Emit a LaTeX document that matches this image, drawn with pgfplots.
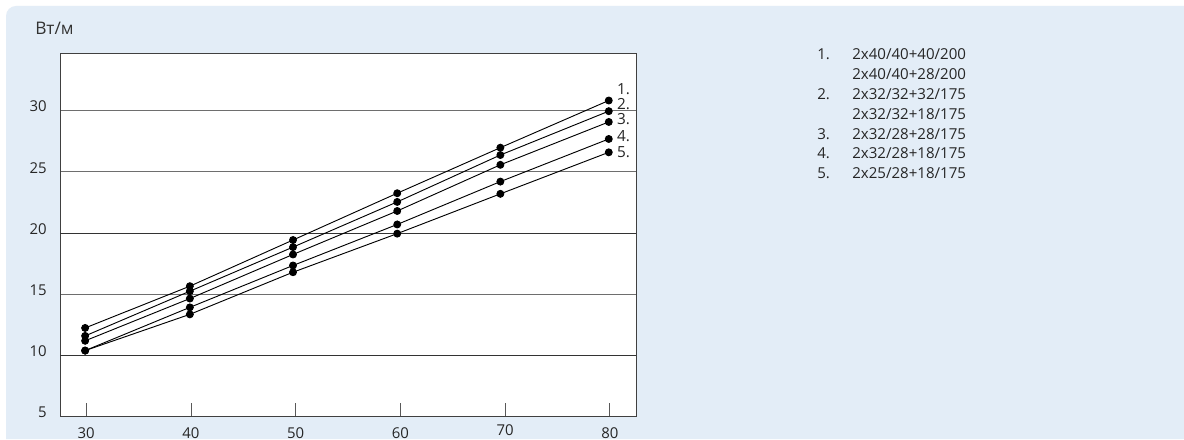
\documentclass[border=0pt]{standalone}
\usepackage{fontspec}
\setmainfont{Open Sans}
\usepackage{pgfplots}
\pgfplotsset{compat=1.18}
\definecolor{bgblue}{RGB}{227,237,247}
\definecolor{gridc}{RGB}{110,110,110}
\pgfplotsset{ser/.style={black, solid, line width=0.7pt, mark=*, mark size=2.6pt, mark options={solid, fill=black, draw=black}}}
\begin{document}
\begin{tikzpicture}
\useasboundingbox (0,0) rectangle (888pt,329.25pt);
\fill[white] (0,0) rectangle (888pt,329.25pt);
\fill[bgblue] (888pt,0pt) -- (888pt,324.75pt) -- (12pt,324.75pt) arc[start angle=90, end angle=180, radius=7.5pt] -- (4.5pt,0pt) -- cycle;
\begin{axis}[
  at={(45pt,16.7pt)}, anchor=south west,
  scale only axis, width=432pt, height=272.8pt,
  xmin=27.5, xmax=82.5, ymin=5, ymax=34.7,
  axis background/.style={fill=white},
  axis line style={draw=gray!50!black, line width=0.6pt},
  xtick={30,40,...,80}, ytick={5,10,...,30},
  xticklabels={30,40,50,60,\raisebox{2.2pt}{70},80},
  xtick pos=bottom, ytick pos=left, tick align=inside,
  major tick length=10pt,
  xtick style={draw=gray!70!black, line width=0.6pt},
  ytick style={draw=none},
  ymajorgrids, grid style={draw=gridc, line width=0.6pt},
  extra y ticks={10,20}, extra y tick labels={},
  extra y tick style={grid style={draw=black!80, line width=0.6pt}, ytick style={draw=none}},
  tick label style={font=\fontsize{11.2}{13}\selectfont, text=black!85},
  /pgf/number format/assume math mode=true,
  xticklabel style={anchor=base, yshift=-16pt},
  yticklabel style={anchor=east, xshift=-6.4pt, yshift=3pt},
  clip=false,
]
\addplot[ser] coordinates {(29.9,12.25) (39.9,15.66) (49.75,19.43) (59.7,23.25) (69.55,26.97) (79.9,30.82)};
\addplot[ser] coordinates {(29.9,11.6) (39.9,15.25) (49.75,18.85) (59.7,22.54) (69.55,26.37) (79.9,29.95)};
\addplot[ser] coordinates {(29.9,11.2) (39.9,14.65) (49.75,18.25) (59.7,21.8) (69.55,25.57) (79.9,29.07)};
\addplot[ser] coordinates {(29.9,10.4) (39.9,13.93) (49.75,17.35) (59.7,20.7) (69.55,24.2) (79.9,27.68)};
\addplot[ser] coordinates {(29.9,10.4) (39.9,13.36) (49.75,16.8) (59.7,19.95) (69.55,23.2) (79.9,26.59)};
\begin{scope}[every node/.style={anchor=west, inner sep=0pt, font=\fontsize{11.5}{13}\selectfont, text=black!85}]
\node at (axis cs:80.67,31.78) {1.};
\node at (axis cs:80.67,30.55) {2.};
\node at (axis cs:80.67,29.32) {3.};
\node at (axis cs:80.67,27.93) {4.};
\node at (axis cs:80.67,26.6) {5.};
\end{scope}
\end{axis}
\node[anchor=west, inner sep=0pt, font=\fontsize{13}{15}\selectfont, text=black!80] at (26.25pt,308.25pt) {Вт/м};
\begin{scope}[every node/.style={anchor=west, inner sep=0pt, font=\fontsize{11.3}{13}\selectfont, text=black!85}]
\node at (612.75pt,288.75pt) {1.};
\node at (639pt,288.75pt) {2x40/40+40/200};
\node at (639pt,273.75pt) {2x40/40+28/200};
\node at (612.75pt,258.75pt) {2.};
\node at (639pt,258.75pt) {2x32/32+32/175};
\node at (639pt,243.75pt) {2x32/32+18/175};
\node at (612.75pt,228.75pt) {3.};
\node at (639pt,228.75pt) {2x32/28+28/175};
\node at (612.75pt,214.5pt) {4.};
\node at (639pt,214.5pt) {2x32/28+18/175};
\node at (612.75pt,199.5pt) {5.};
\node at (639pt,199.5pt) {2x25/28+18/175};
\end{scope}
\end{tikzpicture}
\end{document}
